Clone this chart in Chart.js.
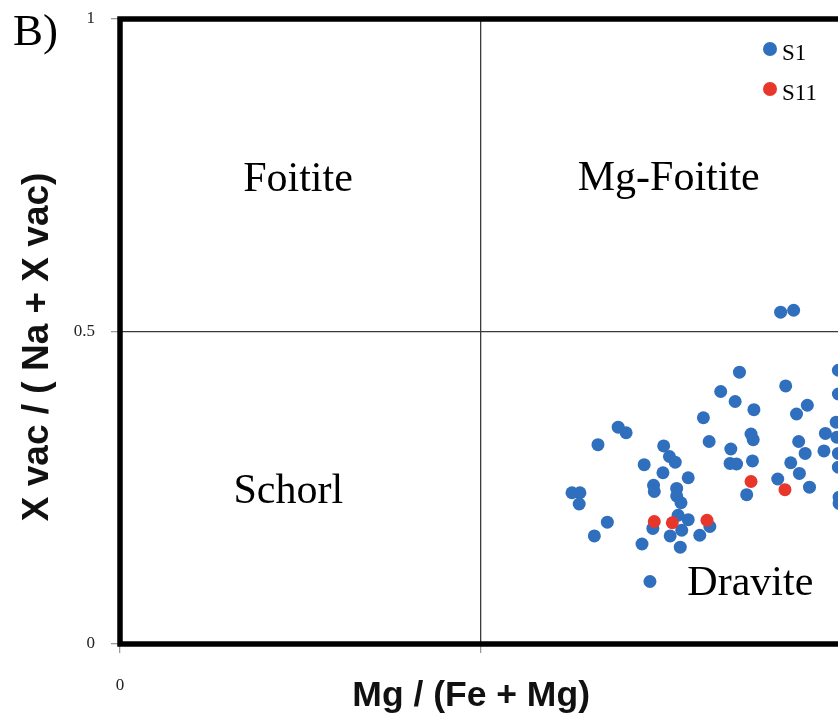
<!DOCTYPE html>
<html>
<head>
<meta charset="utf-8">
<script src="https://cdn.jsdelivr.net/npm/chart.js@4.4.1/dist/chart.umd.min.js"></script>
<style>
  html, body { margin: 0; padding: 0; background: #fff; overflow: hidden; }
  #wrap { position: relative; width: 850px; height: 721px; }
</style>
</head>
<body>
<div id="wrap"><canvas id="chart" width="850" height="721"></canvas></div>
<script>
// ===== DADOS =====
const seriesNames = ['S1', 'S11'];

const s1X = [0.915, 0.933, 0.858, 0.922, 0.832, 0.852, 0.878, 0.937, 0.952, 0.808,
             0.690, 0.701, 0.662, 0.753, 0.816, 0.874, 0.877, 0.846, 0.761, 0.769,
             0.726, 0.845, 0.854, 0.876, 0.929, 0.977, 0.975, 0.949, 0.940, 0.752,
             0.787, 0.739, 0.740, 0.771, 0.771, 0.777, 0.626, 0.637, 0.636, 0.868,
             0.911, 0.941, 0.955, 0.675, 0.657, 0.773, 0.787, 0.817, 0.738, 0.762,
             0.778, 0.803, 0.723, 0.776, 0.734, 0.995, 0.995, 0.992, 0.993, 0.995,
             0.995, 0.996, 0.996];
const s1Y = [0.531, 0.534, 0.435, 0.413, 0.404, 0.388, 0.375, 0.368, 0.382, 0.362,
             0.347, 0.338, 0.319, 0.317, 0.324, 0.336, 0.327, 0.312, 0.300, 0.291,
             0.287, 0.289, 0.288, 0.293, 0.290, 0.337, 0.309, 0.305, 0.324, 0.274,
             0.266, 0.254, 0.244, 0.249, 0.237, 0.226, 0.242, 0.242, 0.224, 0.239,
             0.264, 0.273, 0.251, 0.195, 0.173, 0.206, 0.199, 0.188, 0.185, 0.173,
             0.182, 0.174, 0.160, 0.155, 0.100, 0.438, 0.400, 0.355, 0.331, 0.305,
             0.283, 0.235, 0.225];

const s11X = [0.740, 0.765, 0.813, 0.874, 0.921];
const s11Y = [0.196, 0.194, 0.198, 0.260, 0.247];

const xTickLabels = { 0: '0', 1: '1' };
const yTickLabels = { 0: '0', 0.5: '0.5', 1: '1' };

// Campos do diagrama (x, y da linha de base)
const fieldNames = ['Foitite', 'Mg-Foitite', 'Schorl', 'Dravite'];
const fieldX = [0.2465, 0.760, 0.233, 0.873];
const fieldY = [0.725, 0.727, 0.225, 0.078];

const BLUE = '#2f6fbd';
const RED = '#e8372a';
const SERIF = '"Liberation Serif", "Times New Roman", serif';
const SANS = '"Liberation Sans", Arial, sans-serif';

function toPoints(xs, ys) {
    return xs.map((x, i) => ({ x: x, y: ys[i] }));
}

// ===== PLUGIN: moldura, campos, legenda =====
const diagramPlugin = {
    id: 'diagram',
    beforeDatasetsDraw(chart) {
        const { ctx, chartArea: a } = chart;
        ctx.save();
        ctx.strokeStyle = '#000';
        ctx.lineWidth = 5.5;
        ctx.strokeRect(a.left, a.top, a.right - a.left, a.bottom - a.top);
        ctx.restore();
    },
    afterDatasetsDraw(chart) {
        const { ctx, scales } = chart;
        ctx.save();
        ctx.fillStyle = '#000';
        ctx.font = '42px ' + SERIF;
        ctx.textAlign = 'center';
        ctx.textBaseline = 'alphabetic';
        fieldNames.forEach((name, i) => {
            ctx.fillText(name, scales.x.getPixelForValue(fieldX[i]), scales.y.getPixelForValue(fieldY[i]));
        });

        // legenda
        ctx.font = '23px ' + SERIF;
        ctx.textAlign = 'left';
        ctx.textBaseline = 'middle';
        chart.data.datasets.forEach((ds, i) => {
            const cy = 49 + i * 40;
            ctx.fillStyle = ds.backgroundColor;
            ctx.beginPath();
            ctx.arc(770, cy, 7, 0, Math.PI * 2);
            ctx.fill();
            ctx.fillStyle = '#000';
            ctx.fillText(ds.label, 782, cy + 5);
        });

        // rótulo do painel
        ctx.font = '45px ' + SERIF;
        ctx.textBaseline = 'alphabetic';
        ctx.fillText('B)', 13, 45);
        ctx.restore();
    }
};

function gridColor(c) {
    return c.tick && c.tick.value === 0.5 ? '#3a3a3a' : 'rgba(0,0,0,0)';
}

// ===== GRÁFICO =====
function initChart() {
    const ctx = document.getElementById('chart');
    new Chart(ctx, {
        type: 'scatter',
        data: {
            datasets: [
                {
                    label: seriesNames[0],
                    data: toPoints(s1X, s1Y),
                    backgroundColor: BLUE,
                    borderWidth: 0,
                    pointRadius: 6.5,
                    order: 1
                },
                {
                    label: seriesNames[1],
                    data: toPoints(s11X, s11Y),
                    backgroundColor: RED,
                    borderWidth: 0,
                    pointRadius: 6.5,
                    order: 0
                }
            ]
        },
        options: {
            responsive: false,
            animation: false,
            layout: { padding: { top: 19, right: 8, left: 0, bottom: 0 } },
            plugins: {
                legend: { display: false },
                tooltip: { enabled: false }
            },
            scales: {
                x: {
                    type: 'linear',
                    min: 0,
                    max: 1,
                    afterFit(scale) {
                        scale.height = 77;
                        scale.paddingLeft = 0;
                        scale.paddingRight = 0;
                    },
                    ticks: {
                        stepSize: 0.5,
                        padding: 22,
                        maxRotation: 0,
                        color: '#222',
                        font: { family: SERIF, size: 17 },
                        callback: v => xTickLabels[v] || ''
                    },
                    grid: { color: gridColor, lineWidth: 1.3, tickColor: '#9a9a9a', tickLength: 9 },
                    border: { display: false },
                    title: {
                        display: true,
                        text: 'Mg / (Fe + Mg)  ',
                        color: '#111',
                        font: { family: SANS, size: 35.5, weight: 'bold' },
                        padding: { top: 0, bottom: 3 }
                    }
                },
                y: {
                    type: 'linear',
                    min: 0,
                    max: 1,
                    afterFit(scale) {
                        scale.width = 120;
                        scale.paddingTop = 0;
                        scale.paddingBottom = 0;
                    },
                    ticks: {
                        stepSize: 0.5,
                        padding: 16,
                        color: '#222',
                        font: { family: SERIF, size: 17 },
                        callback: v => yTickLabels[v] || ''
                    },
                    grid: { color: gridColor, lineWidth: 1.3, tickColor: '#9a9a9a', tickLength: 9 },
                    border: { display: false },
                    title: {
                        display: true,
                        text: 'X vac / ( Na + X vac)   ',
                        color: '#111',
                        font: { family: SANS, size: 37, weight: 'bold' },
                        padding: { top: 16, bottom: 0 }
                    }
                }
            }
        },
        plugins: [diagramPlugin]
    });
}

document.addEventListener('DOMContentLoaded', initChart);
</script>
</body>
</html>
